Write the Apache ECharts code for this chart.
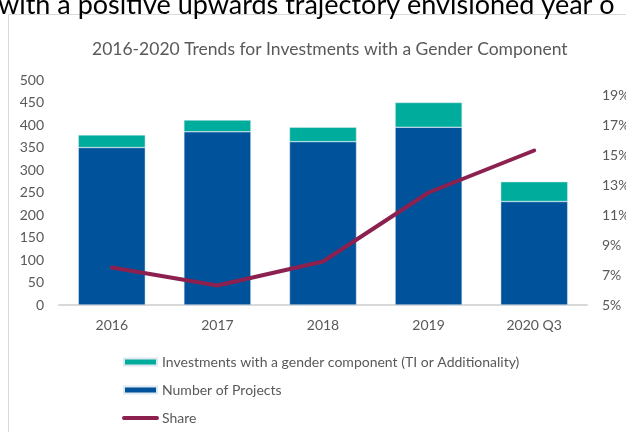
<!DOCTYPE html>
<html>
<head>
<meta charset="utf-8">
<script src="https://cdn.jsdelivr.net/npm/echarts@6/dist/echarts.min.js"></script>
<style>
  html, body { margin: 0; padding: 0; background: #fff; }
  #chart { width: 626px; height: 432px; }
</style>
</head>
<body>
<div id="chart"></div>
<script>
// 数据
var categories = ['2016', '2017', '2018', '2019', '2020 Q3'];
var projects = [350, 385, 363, 395, 230];
var genderInvest = [28, 26, 32, 55, 44];
var share = [0.075, 0.063, 0.079, 0.125, 0.153];
var leftTicks = [0, 500, 50];
var rightTicks = [0.05, 0.20, 0.01];

var font = 'Lato, "Open Sans", sans-serif';
var grey = '#595959';

var myChart = echarts.init(document.getElementById('chart'));
myChart.setOption({
    animation: false,
    title: {
        text: '2016-2020 Trends for Investments with a Gender Component',
        left: 87,
        top: 35,
        textStyle: { color: grey, fontSize: 17.5, fontWeight: 'normal', fontFamily: font }
    },
    graphic: [
        {
            type: 'rect',
            shape: { x: 8.5, y: 14.5, width: 700, height: 500 },
            style: { fill: 'none', stroke: '#d9d9d9', lineWidth: 1 },
            z: -1
        },
        {
            // 截图顶部被裁掉的正文
            type: 'text',
            x: -2,
            y: -8,
            style: {
                text: 'with a positive upwards trajectory envisioned year o',
                font: '27px ' + font,
                fill: '#000'
            }
        }
    ],
    legend: {
        orient: 'vertical',
        left: 117,
        top: 350,
        height: 90,
        itemWidth: 33,
        itemHeight: 7,
        itemGap: 14,
        textStyle: { color: grey, fontSize: 14, fontFamily: font },
        data: [
            { name: 'Investments with a gender component (TI or Additionality)', icon: 'rect' },
            { name: 'Number of Projects', icon: 'rect' },
            { name: 'Share', itemStyle: { opacity: 0 }, lineStyle: { width: 4, cap: 'round' } }
        ]
    },
    grid: { left: 59, right: 39, top: 80, bottom: 127, outerBoundsMode: 'none' },
    xAxis: {
        type: 'category',
        data: categories,
        axisTick: { show: false },
        axisLine: { lineStyle: { color: '#d9d9d9', width: 2 } },
        axisLabel: { color: grey, fontSize: 14, fontFamily: font, margin: 13 }
    },
    yAxis: [
        {
            type: 'value',
            min: leftTicks[0],
            max: leftTicks[1],
            interval: leftTicks[2],
            splitLine: { show: false },
            axisLine: { show: false },
            axisTick: { show: false },
            axisLabel: { color: grey, fontSize: 14, fontFamily: font, margin: 15 }
        },
        {
            type: 'value',
            min: rightTicks[0],
            max: rightTicks[1],
            interval: rightTicks[2],
            splitLine: { show: false },
            axisLine: { show: false },
            axisTick: { show: false },
            axisLabel: {
                color: grey, fontSize: 14, fontFamily: font, margin: 15,
                formatter: function (v) {
                    var p = Math.round(v * 100);
                    return (p % 2 === 1 && p < 20) ? p + '%' : '';
                }
            }
        }
    ],
    series: [
        {
            name: 'Number of Projects',
            type: 'bar',
            stack: 'total',
            data: projects,
            barWidth: 67,
            itemStyle: { color: '#00529B', borderColor: '#dde8f0', borderWidth: 0.5 }
        },
        {
            name: 'Investments with a gender component (TI or Additionality)',
            type: 'bar',
            stack: 'total',
            data: genderInvest,
            barWidth: 67,
            itemStyle: { color: '#00AC9C', borderColor: '#dde8f0', borderWidth: 0.5 }
        },
        {
            name: 'Share',
            type: 'line',
            yAxisIndex: 1,
            data: share,
            symbol: 'none',
            lineStyle: { color: '#8C2150', width: 4, cap: 'round' },
            itemStyle: { color: '#8C2150' }
        }
    ]
});
</script>
</body>
</html>
